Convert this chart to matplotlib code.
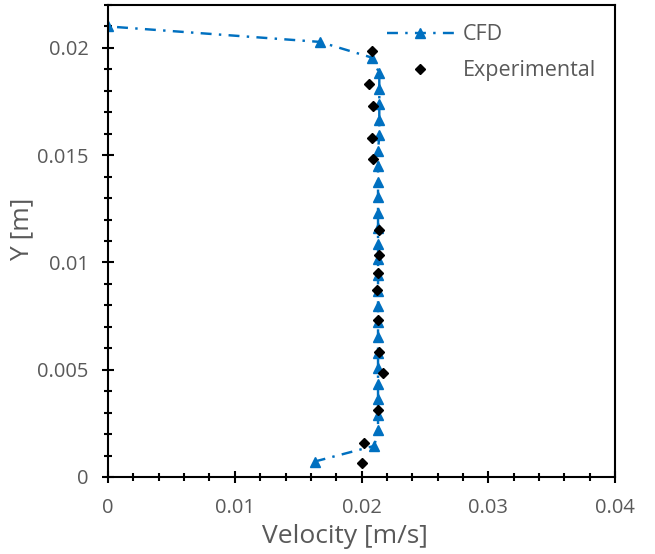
import matplotlib.pyplot as plt
from matplotlib.ticker import MultipleLocator

# CFD profile (velocity [m/s], height [m])
cfd_y = [0.00072, 0.00145, 0.00217, 0.0029, 0.00362, 0.00434, 0.00507, 0.00579,
         0.00652, 0.00724, 0.00797, 0.00869, 0.00941, 0.01014, 0.01086, 0.01159,
         0.01231, 0.01303, 0.01376, 0.01448, 0.01521, 0.01593, 0.01666, 0.01738,
         0.0181, 0.01883, 0.01955, 0.02028, 0.021]
cfd_v = [0.0163, 0.0210, 0.0213, 0.0213, 0.0213, 0.0213, 0.0213, 0.0213,
         0.0213, 0.0213, 0.0213, 0.0213, 0.0213, 0.0213, 0.0213, 0.0213,
         0.0213, 0.0213, 0.0213, 0.0213, 0.0213, 0.0214, 0.0214, 0.0214,
         0.0214, 0.0214, 0.0208, 0.0167, 0.0]

# experimental measurements
exp_y = [0.00065, 0.00158, 0.00312, 0.00484, 0.00581, 0.0073, 0.0087, 0.00949,
         0.01037, 0.01149, 0.01484, 0.01581, 0.0173, 0.01833, 0.01986]
exp_v = [0.0200, 0.0202, 0.0213, 0.0217, 0.0214, 0.0213, 0.0212, 0.0213,
         0.0214, 0.0214, 0.0209, 0.0208, 0.0209, 0.0206, 0.0208]

grey = '#595959'
plt.rcParams['font.family'] = ['Open Sans', 'DejaVu Sans']

fig = plt.figure(figsize=(6.55, 5.54), dpi=100)
ax = fig.add_axes([0.165, 0.139, 0.774, 0.852])

ax.plot(cfd_v, cfd_y, color='#0070C0', linestyle=(0, (4.5, 3, 1, 3)), linewidth=1.75,
        marker='^', markersize=6.5, label='CFD')
ax.plot(exp_v, exp_y, color='black', linestyle='none', marker='D',
        markersize=5.5, label='Experimental')

ax.set_xlim(0, 0.04)
ax.set_ylim(0, 0.022)
ax.xaxis.set_major_locator(MultipleLocator(0.01))
ax.xaxis.set_minor_locator(MultipleLocator(0.002))
ax.yaxis.set_major_locator(MultipleLocator(0.005))
ax.yaxis.set_minor_locator(MultipleLocator(0.001))
fmt = plt.FuncFormatter(lambda v, p: '0' if v == 0 else f'{v:g}')
ax.xaxis.set_major_formatter(fmt)
ax.yaxis.set_major_formatter(fmt)

ax.tick_params(which='major', direction='inout', length=8, width=1.5,
               labelsize=14.5, labelcolor=grey)
ax.tick_params(which='minor', direction='inout', length=6, width=1.5)
ax.tick_params(axis='x', which='major', pad=11)
ax.tick_params(axis='y', which='major', pad=10)
for s in ax.spines.values():
    s.set_linewidth(1.5)

ax.set_xlabel('Velocity [m/s]', fontsize=19, color=grey)
ax.set_ylabel('Y [m]', fontsize=19, color=grey)
ax.xaxis.set_label_coords(0.467, -0.10)
ax.yaxis.set_label_coords(-0.145, 0.525)

ax.legend(loc='upper right', bbox_to_anchor=(1.0, 1.0), frameon=False,
          fontsize=15.5, handlelength=3.1, handletextpad=0.4,
          labelspacing=0.7, labelcolor=grey)

fig.savefig('out.png', dpi=100)
